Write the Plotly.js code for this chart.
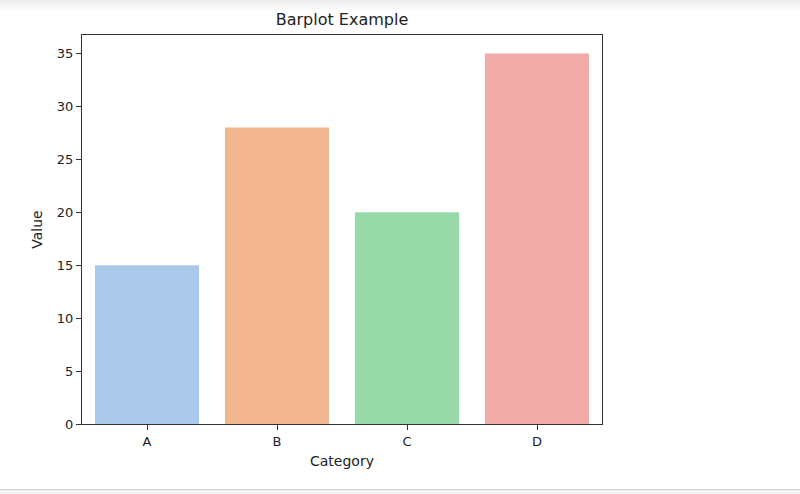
<!DOCTYPE html>
<html>
<head>
<meta charset="utf-8">
<script src="https://cdn.plot.ly/plotly-3.0.1.min.js"></script>
<style>
html,body{margin:0;padding:0;width:800px;height:494px;overflow:hidden;background:#fff;}
#bgtop{position:absolute;left:0;top:0;width:800px;height:12px;background:linear-gradient(#ececec,#ffffff);}
#bgbot{position:absolute;left:0;top:489px;width:800px;height:5px;background:#f3f3f3;border-top:1px solid #d0d0d0;}
#chart{position:absolute;left:0;top:0;width:800px;height:494px;}
</style>
</head>
<body>
<div id="bgtop"></div>
<div id="bgbot"></div>
<div id="chart"></div>
<script>
const categories = ["A", "B", "C", "D"];
const values = [15, 28, 20, 35];
const barColors = ["#abc9ea", "#f1b58f", "#98daa7", "#f1aaa7"];
const yTicks = [0, 5, 10, 15, 20, 25, 30, 35];

const trace = {
  type: "bar",
  x: categories,
  y: values,
  marker: {color: barColors, line: {width: 0}},
  width: 0.8,
  hoverinfo: "x+y"
};

const font = {family: "DejaVu Sans, sans-serif", color: "#222", size: 12};

const layout = {
  width: 800, height: 494,
  margin: {l: 82, r: 198, t: 35, b: 70, pad: 0},
  paper_bgcolor: "rgba(0,0,0,0)",
  plot_bgcolor: "#ffffff",
  font: font,
  showlegend: false,
  title: {text: "Barplot Example", font: {family: "DejaVu Sans, sans-serif", size: 16, color: "#222"},
          x: 0.4275, xanchor: "center", y: 0.96, yanchor: "middle"},
  xaxis: {
    type: "category",
    range: [-0.5, 3.5],
    showline: true, linecolor: "#333", linewidth: 1, mirror: true,
    ticks: "outside", ticklen: 5, tickwidth: 1, tickcolor: "#333",
    showgrid: false, zeroline: false,
    tickfont: {size: 13, color: "#222"},
    title: {text: "Category", font: {size: 14, color: "#222"}, standoff: 8}
  },
  yaxis: {
    range: [0, 36.75],
    tickvals: yTicks,
    ticktext: yTicks.map(String),
    showline: true, linecolor: "#333", linewidth: 1, mirror: true,
    ticks: "outside", ticklen: 5, tickwidth: 1, tickcolor: "#333",
    showgrid: false, zeroline: false,
    tickfont: {size: 13, color: "#222"},
    title: {text: "Value", font: {size: 14, color: "#222"}, standoff: 10}
  },
  bargap: 0.2
};

Plotly.newPlot("chart", [trace], layout, {displayModeBar: false, staticPlot: true});
</script>
</body>
</html>
